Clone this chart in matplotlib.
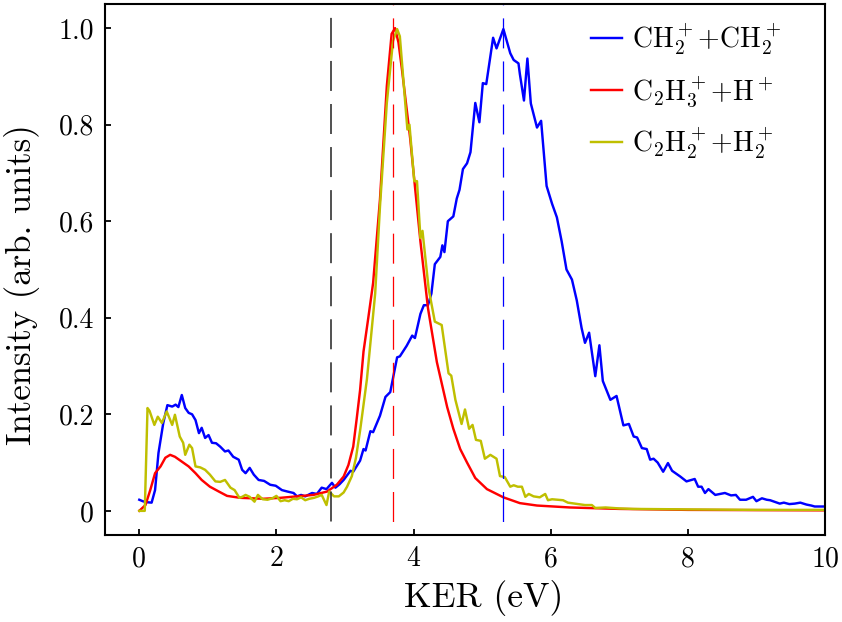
import matplotlib
matplotlib.use('Agg')
import matplotlib.pyplot as plt

# values
ch2_x = [0.0, 0.05, 0.1, 0.18, 0.23, 0.28, 0.35, 0.41, 0.48, 0.53, 0.57, 0.62, 0.67, 0.72, 0.77,
         0.82, 0.87, 0.91, 0.96, 1.01, 1.06, 1.12, 1.18, 1.25, 1.30, 1.37, 1.45, 1.50, 1.55, 1.61,
         1.67, 1.74, 1.82, 1.91, 1.99, 2.08, 2.16, 2.25, 2.30, 2.36, 2.42, 2.52, 2.59, 2.66, 2.73,
         2.81, 2.86, 2.92, 2.98, 3.08, 3.12, 3.22, 3.27, 3.30, 3.37, 3.41, 3.51, 3.59, 3.66, 3.76,
         3.80, 3.90, 3.98, 4.02, 4.10, 4.15, 4.21, 4.26, 4.31, 4.39, 4.42, 4.45, 4.50, 4.58, 4.63,
         4.67, 4.72, 4.78, 4.83, 4.87, 4.90, 4.96, 5.01, 5.06, 5.16, 5.21, 5.31, 5.41, 5.46, 5.53,
         5.55, 5.61, 5.66, 5.71, 5.80, 5.86, 5.94, 6.02, 6.09, 6.16, 6.23, 6.31, 6.38, 6.45, 6.50,
         6.56, 6.65, 6.71, 6.76, 6.87, 6.96, 7.06, 7.14, 7.21, 7.26, 7.33, 7.40, 7.45, 7.50, 7.56,
         7.64, 7.71, 7.77, 7.89, 7.98, 8.10, 8.15, 8.20, 8.25, 8.30, 8.40, 8.54, 8.63, 8.70, 8.76,
         8.85, 8.95, 9.00, 9.08, 9.15, 9.20, 9.34, 9.40, 9.48, 9.56, 9.64, 9.73, 9.80, 9.85, 10.0]
ch2_y = [0.023, 0.020, 0.018, 0.017, 0.043, 0.120, 0.182, 0.219, 0.216, 0.220, 0.215, 0.240, 0.213, 0.203, 0.200,
         0.188, 0.161, 0.172, 0.151, 0.157, 0.141, 0.140, 0.133, 0.123, 0.125, 0.112, 0.106, 0.085, 0.078, 0.089,
         0.075, 0.064, 0.062, 0.054, 0.052, 0.043, 0.040, 0.037, 0.030, 0.033, 0.030, 0.037, 0.035, 0.048, 0.045,
         0.058, 0.048, 0.055, 0.064, 0.083, 0.081, 0.104, 0.128, 0.125, 0.165, 0.163, 0.197, 0.236, 0.246, 0.318,
         0.320, 0.342, 0.363, 0.358, 0.408, 0.426, 0.426, 0.450, 0.511, 0.526, 0.550, 0.536, 0.600, 0.610, 0.647,
         0.665, 0.708, 0.720, 0.743, 0.800, 0.845, 0.805, 0.886, 0.884, 0.980, 0.958, 0.998, 0.948, 0.934, 0.927,
         0.905, 0.850, 0.937, 0.844, 0.794, 0.808, 0.673, 0.636, 0.608, 0.558, 0.500, 0.479, 0.436, 0.379, 0.348,
         0.369, 0.279, 0.343, 0.269, 0.230, 0.238, 0.177, 0.180, 0.154, 0.152, 0.130, 0.128, 0.106, 0.108, 0.100,
         0.081, 0.099, 0.083, 0.071, 0.061, 0.066, 0.050, 0.050, 0.037, 0.045, 0.033, 0.037, 0.032, 0.033, 0.023,
         0.023, 0.029, 0.020, 0.026, 0.023, 0.022, 0.015, 0.017, 0.014, 0.015, 0.017, 0.013, 0.011, 0.009, 0.009]

c2h3_x = [0.0, 0.09, 0.16, 0.23, 0.31, 0.38, 0.45, 0.52, 0.62, 0.72, 0.82, 0.91, 1.03, 1.16, 1.28,
          1.47, 1.81, 2.06, 2.30, 2.54, 2.74, 2.88, 2.98, 3.05, 3.12, 3.17, 3.22, 3.27, 3.34, 3.41,
          3.51, 3.61, 3.68, 3.73, 3.78, 3.83, 3.95, 4.10, 4.21, 4.34, 4.49, 4.58, 4.68, 4.78, 4.90,
          5.07, 5.31, 5.55, 5.80, 6.28, 7.0, 8.0, 10.0]
c2h3_y = [0.0, 0.012, 0.043, 0.078, 0.092, 0.110, 0.116, 0.112, 0.102, 0.092, 0.078, 0.064, 0.050, 0.040, 0.031,
          0.027, 0.025, 0.027, 0.030, 0.033, 0.040, 0.054, 0.071, 0.095, 0.133, 0.190, 0.250, 0.330, 0.400, 0.472,
          0.645, 0.880, 0.988, 1.000, 0.970, 0.915, 0.772, 0.558, 0.420, 0.308, 0.215, 0.170, 0.128, 0.100, 0.068,
          0.045, 0.028, 0.016, 0.011, 0.007, 0.004, 0.002, 0.001]

c2h2_x = [0.0, 0.08, 0.12, 0.15, 0.22, 0.27, 0.33, 0.40, 0.48, 0.52, 0.59, 0.64, 0.67, 0.73, 0.77,
          0.82, 0.89, 0.96, 1.03, 1.11, 1.18, 1.25, 1.33, 1.39, 1.46, 1.50, 1.55, 1.61, 1.68, 1.73,
          1.80, 1.87, 1.94, 2.00, 2.06, 2.12, 2.18, 2.24, 2.30, 2.36, 2.42, 2.48, 2.55, 2.61, 2.66,
          2.73, 2.77, 2.84, 2.91, 2.98, 3.03, 3.10, 3.16, 3.22, 3.32, 3.44, 3.51, 3.61, 3.70, 3.76,
          3.80, 3.91, 3.94, 4.01, 4.05, 4.10, 4.13, 4.22, 4.31, 4.41, 4.51, 4.55, 4.61, 4.70, 4.75,
          4.81, 4.86, 4.91, 4.98, 5.04, 5.12, 5.21, 5.26, 5.33, 5.41, 5.46, 5.52, 5.58, 5.63, 5.68,
          5.75, 5.84, 5.92, 5.96, 6.02, 6.18, 6.25, 6.40, 6.50, 6.60, 6.65, 6.80, 7.0, 7.2, 8.0,
          9.0, 10.0]
c2h2_y = [0.0, 0.0, 0.213, 0.207, 0.178, 0.195, 0.182, 0.206, 0.178, 0.199, 0.154, 0.141, 0.116, 0.137, 0.130,
          0.092, 0.090, 0.085, 0.075, 0.061, 0.060, 0.064, 0.048, 0.043, 0.027, 0.029, 0.033, 0.029, 0.019, 0.033,
          0.024, 0.023, 0.026, 0.031, 0.020, 0.022, 0.020, 0.025, 0.024, 0.028, 0.022, 0.025, 0.027, 0.030, 0.033,
          0.012, 0.040, 0.030, 0.030, 0.038, 0.050, 0.072, 0.110, 0.166, 0.273, 0.450, 0.630, 0.845, 0.973, 0.998,
          0.983, 0.790, 0.800, 0.683, 0.683, 0.565, 0.580, 0.460, 0.392, 0.385, 0.285, 0.280, 0.230, 0.180, 0.210,
          0.170, 0.178, 0.147, 0.145, 0.108, 0.116, 0.108, 0.072, 0.070, 0.050, 0.053, 0.050, 0.050, 0.029, 0.035,
          0.030, 0.028, 0.035, 0.022, 0.024, 0.022, 0.017, 0.014, 0.012, 0.012, 0.006, 0.007, 0.005, 0.004, 0.003,
          0.002, 0.002]

peak_pos = [2.80, 3.70, 5.31]
peak_colors = ['#333333', 'red', 'blue']

labels = [r'$\mathrm{CH_2^+}$+$\mathrm{CH_2^+}$', r'$\mathrm{C_2H_3^+}$+$\mathrm{H^+}$',
          r'$\mathrm{C_2H_2^+}$+$\mathrm{H_2^+}$']


def main():
    plt.rcParams.update({'font.family': 'serif', 'font.serif': ['cmr10'],
                         'mathtext.fontset': 'cm', 'axes.formatter.use_mathtext': True,
                         'axes.linewidth': 1.5})
    fig = plt.figure(figsize=(8.42, 6.22), dpi=100)
    ax = fig.add_axes([0.1247, 0.1399, 0.8551, 0.8537])

    ax.plot(ch2_x, ch2_y, color='blue', lw=1.75, label=labels[0])
    ax.plot(c2h3_x, c2h3_y, color='red', lw=1.75, label=labels[1])
    ax.plot(c2h2_x, c2h2_y, color='#bfbf00', lw=1.75, label=labels[2])

    for xp, col in zip(peak_pos, peak_colors):
        lw = 1.2 if col == '#333333' else 0.9
        ax.plot([xp, xp], [1.05, -0.05], color=col, lw=lw,
                linestyle=(21 / lw, (21.6 / lw, 9.4 / lw)))

    ax.set_xlim(-0.5, 10)
    ax.set_ylim(-0.05, 1.05)
    ax.set_xticks([0, 2, 4, 6, 8, 10])
    ax.set_xticklabels(['0', '2', '4', '6', '8', '10'])
    ax.set_yticks([0, 0.2, 0.4, 0.6, 0.8, 1.0])
    ax.set_yticklabels(['0', '0.2', '0.4', '0.6', '0.8', '1.0'])
    ax.tick_params(direction='in', length=4, width=1.3, labelsize=20, pad=8)
    ax.set_xlabel('KER (eV)', fontsize=25.5)
    ax.xaxis.set_label_coords(0.526, -0.085)
    ax.set_ylabel('Intensity (arb. units)', fontsize=25)
    ax.yaxis.set_label_coords(-0.09, 0.471)

    ax.legend(loc='upper right', bbox_to_anchor=(0.954, 0.987), frameon=False, fontsize=20,
              handlelength=1.1, handletextpad=0.35, labelspacing=0.6, borderaxespad=0)

    fig.savefig('out.png', dpi=100)


if __name__ == '__main__':
    main()
